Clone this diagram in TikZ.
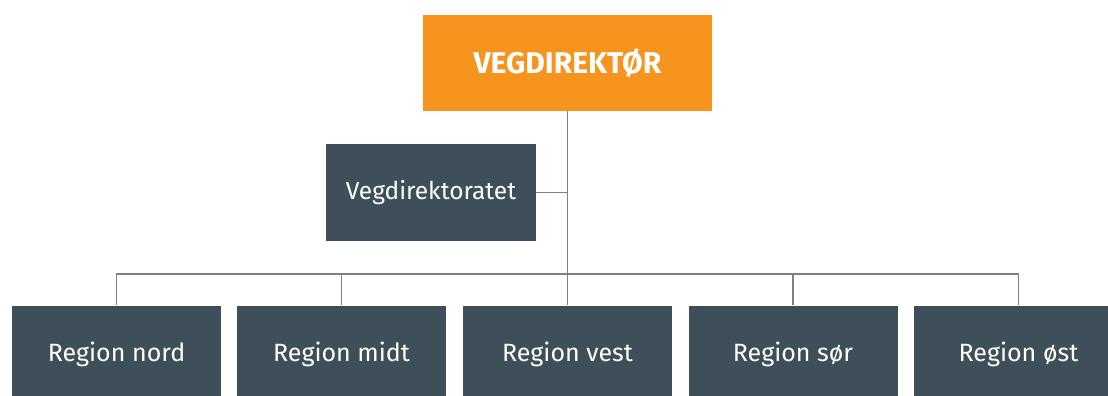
\documentclass[tikz,border=0pt]{standalone}
\usepackage{fontspec}
\setmainfont{Fira Sans}
\definecolor{SVVOrange}{RGB}{247,148,29}
\definecolor{SVVSlate}{RGB}{62,79,89}
\definecolor{LineGray}{RGB}{128,128,128}

\begin{document}
\begin{tikzpicture}[x=1pt, y=-1pt,
    unit/.style={fill=SVVSlate, text=white, inner sep=0pt, minimum width=209pt, minimum height=97pt, font=\fontsize{25}{29}\selectfont},
    chief/.style={unit, fill=SVVOrange, minimum width=289pt, minimum height=96pt, font=\fontsize{30}{34}\selectfont\bfseries},
    link/.style={LineGray, line width=1.3pt}]
  \useasboundingbox (0,0) rectangle (1108,396);
  \clip (0,0) rectangle (1108,396);
  \node[chief] (dir) at (567.5,63) {VEGDIREKTØR};
  \node[unit, minimum width=210pt, font=\fontsize{24.5}{28}\selectfont] (vd) at (431,192.5) {Vegdirektoratet};
  \foreach \name/\x/\txt in {nord/116.5/Region nord, midt/341.5/Region midt, vest/567.5/Region vest, sor/793/Region sør, ost/1018.5/Region øst}
    \node[unit] (\name) at (\x,354) {\txt};
  \coordinate (bus) at (567.5,274);
  % lines
  \draw[link] (dir.south) -- (vest.north);
  \draw[link] (vd.east) -- (vd.east -| dir.south);
  \draw[link] (nord.north) |- (bus) -| (ost.north);
  \draw[link] (midt.north) -- (midt.north |- bus);
  \draw[link] (sor.north) -- (sor.north |- bus);
\end{tikzpicture}
\end{document}
